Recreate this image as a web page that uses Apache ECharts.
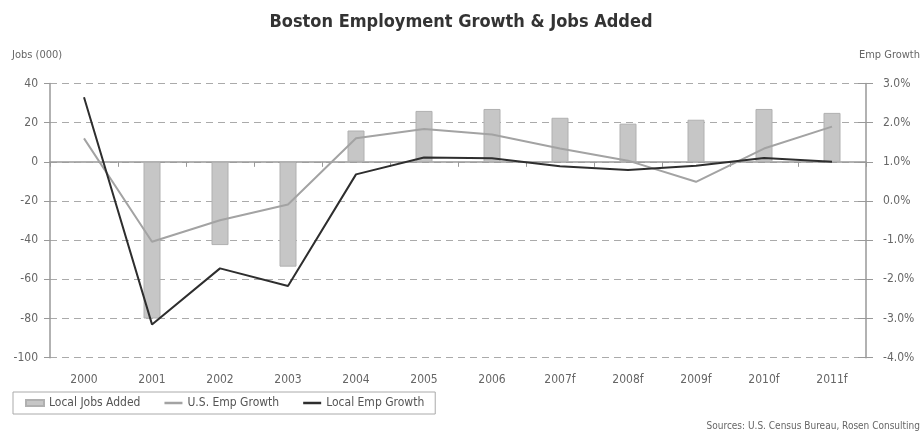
<!DOCTYPE html>
<html>
<head>
<meta charset="utf-8">
<script src="https://cdn.jsdelivr.net/npm/echarts@6/dist/echarts.min.js"></script>
<style>
html,body{margin:0;padding:0;background:#fff;}
#c{width:922px;height:436px;}
</style>
</head>
<body>
<div id="c"></div>
<script>
var categories = ['2000','2001','2002','2003','2004','2005','2006','2007f','2008f','2009f','2010f','2011f'];
var localJobsAdded = [0, -80, -42.5, -53.5, 16, 26, 27, 22.5, 19.5, 21.5, 27, 25];
var usEmpGrowth = [1.6, -1.04, -0.49, -0.09, 1.6, 1.84, 1.7, 1.34, 1.03, 0.49, 1.34, 1.9];
var localEmpGrowth = [2.65, -3.15, -1.72, -2.17, 0.68, 1.11, 1.09, 0.89, 0.79, 0.9, 1.1, 1.0];
var leftTicks = {min: -100, max: 40, interval: 20};
var rightTicks = {min: -4, max: 3, interval: 1};

var FONT = '"Liberation Sans Narrow", "DejaVu Sans Condensed", "Liberation Sans", sans-serif';
var chart = echarts.init(document.getElementById('c'), null, {renderer: 'canvas'});
var axisGray = '#999';
var labelColor = '#666';
var lineIcon = 'path://M0,0H18V2.5H0Z';

chart.setOption({
  animation: false,
  backgroundColor: '#fff',
  textStyle: {fontFamily: FONT},
  title: {
    text: 'Boston Employment Growth & Jobs Added',
    left: 'center', top: 8,
    textStyle: {fontFamily: FONT, fontWeight: 'bold', fontSize: 18, color: '#333'}
  },
  grid: {left: 50, right: 56, top: 83.5, bottom: 78.3, containLabel: false},
  legend: {
    left: 13, top: 392,
    orient: 'horizontal',
    padding: [5, 11, 5, 12],
    itemGap: 24,
    itemWidth: 18, itemHeight: 6,
    symbolKeepAspect: true,
    borderColor: '#aaa', borderWidth: 1,
    textStyle: {fontFamily: FONT, fontSize: 12, color: '#555'},
    data: [
      {name: 'Local Jobs Added', icon: 'rect'},
      {name: 'U.S. Emp Growth', icon: lineIcon},
      {name: 'Local Emp Growth', icon: lineIcon}
    ]
  },
  graphic: [
    {type: 'text', left: 12, top: 50, style: {text: 'Jobs (000)', font: '11px ' + FONT, fill: '#666'}},
    {type: 'text', right: 2, top: 50, style: {text: 'Emp Growth', font: '11px ' + FONT, fill: '#666'}},
    {type: 'text', right: 2, top: 421, style: {text: 'Sources: U.S. Census Bureau, Rosen Consulting', font: '10px ' + FONT, fill: '#666'}}
  ],
  xAxis: [
    {
      type: 'category', data: categories, position: 'bottom', boundaryGap: true,
      axisLine: {show: false}, axisTick: {show: false},
      axisLabel: {margin: 16, color: labelColor, fontSize: 12, fontFamily: FONT}
    },
    {
      type: 'category', data: categories, position: 'bottom', boundaryGap: true,
      axisLine: {show: true, onZero: true, onZeroAxisIndex: 0, lineStyle: {color: axisGray, width: 1.5}},
      axisTick: {show: true, length: 5, lineStyle: {color: axisGray}},
      axisLabel: {show: false}
    }
  ],
  yAxis: [
    {
      type: 'value', position: 'left',
      min: leftTicks.min, max: leftTicks.max, interval: leftTicks.interval,
      axisLine: {show: true, lineStyle: {color: axisGray, width: 1.5}},
      axisTick: {show: true, length: 6, lineStyle: {color: axisGray}},
      axisLabel: {margin: 12, color: labelColor, fontSize: 12, fontFamily: FONT},
      splitLine: {show: true, lineStyle: {color: '#aaa', type: [7, 5], width: 1}}
    },
    {
      type: 'value', position: 'right',
      min: rightTicks.min, max: rightTicks.max, interval: rightTicks.interval,
      axisLine: {show: true, lineStyle: {color: axisGray, width: 1.5}},
      axisTick: {show: true, length: 7, lineStyle: {color: axisGray}},
      axisLabel: {margin: 17, color: labelColor, fontSize: 12, fontFamily: FONT,
        formatter: function (v) { return v.toFixed(1) + '%'; }},
      splitLine: {show: false}
    },
    {
      type: 'value', position: 'right',
      min: rightTicks.min, max: rightTicks.max, interval: rightTicks.interval,
      axisLine: {show: false},
      axisTick: {show: true, inside: true, length: 8, lineStyle: {color: axisGray}},
      axisLabel: {show: false},
      splitLine: {show: false}
    }
  ],
  series: [
    {
      name: 'Local Jobs Added', type: 'bar', xAxisIndex: 0, yAxisIndex: 0,
      data: localJobsAdded, barWidth: 17,
      itemStyle: {color: '#c6c6c6', borderColor: '#b0b0b0', borderWidth: 1}
    },
    {
      name: 'U.S. Emp Growth', type: 'line', xAxisIndex: 0, yAxisIndex: 1,
      data: usEmpGrowth, symbol: 'none',
      lineStyle: {color: '#a3a3a3', width: 2}, itemStyle: {color: '#a3a3a3'}
    },
    {
      name: 'Local Emp Growth', type: 'line', xAxisIndex: 0, yAxisIndex: 1,
      data: localEmpGrowth, symbol: 'none',
      lineStyle: {color: '#2e2e2e', width: 2}, itemStyle: {color: '#2e2e2e'}
    }
  ]
});
</script>
</body>
</html>
